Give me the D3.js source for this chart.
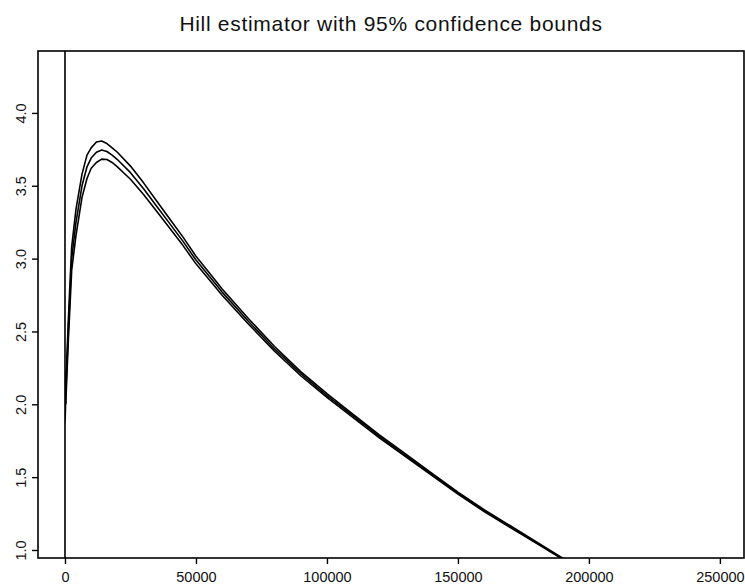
<!DOCTYPE html>
<html>
<head>
<meta charset="utf-8">
<script src="https://cdn.jsdelivr.net/npm/d3@7"></script>
<style>
  html, body { margin: 0; padding: 0; background: #fff; }
  svg { display: block; }
</style>
</head>
<body>
<svg id="chart" width="745" height="586"></svg>
<script>
// ---- data ----
const titleText = "Hill estimator with 95% confidence bounds";
const xTicks = [0, 50000, 100000, 150000, 200000, 250000];
const yTicks = [1.0, 1.5, 2.0, 2.5, 3.0, 3.5, 4.0];
const yTickLabels = ["1.0", "1.5", "2.0", "2.5", "3.0", "3.5", "4.0"];

// erratic first estimates at the smallest k (vertical spike at x = 0)
const spikeK = [0, 0, 0];
const spikeValues = [4.6, 0.9, 1.85];

const kValues = [300, 700, 1260, 1900, 2560, 4200, 6500, 8400, 10000, 12000, 14000, 16000, 18000, 20000,
  25000, 30000, 35000, 40000, 45000, 50000, 55000, 60000, 70000, 80000, 90000, 100000, 110000, 120000,
  130000, 140000, 150000, 160000, 170000, 180000, 190000, 200000];
const hillValues = [2.05, 2.25, 2.5, 2.75, 3.0, 3.25, 3.5, 3.63, 3.69, 3.73, 3.745, 3.735, 3.71, 3.68,
  3.59, 3.48, 3.36, 3.24, 3.12, 2.99, 2.88, 2.77, 2.57, 2.38, 2.21, 2.06, 1.92, 1.78,
  1.65, 1.52, 1.39, 1.27, 1.16, 1.05, 0.94, 0.84];
const upperValues = [2.10, 2.31, 2.57, 2.83, 3.08, 3.34, 3.58, 3.71, 3.76, 3.80, 3.807, 3.79, 3.76, 3.73,
  3.635, 3.52, 3.395, 3.272, 3.149, 3.016, 2.904, 2.792, 2.589, 2.397, 2.224, 2.073, 1.931, 1.79,
  1.659, 1.528, 1.397, 1.276, 1.166, 1.055, 0.944, 0.844];
const lowerValues = [2.00, 2.19, 2.43, 2.67, 2.92, 3.16, 3.42, 3.55, 3.62, 3.66, 3.683, 3.68, 3.66, 3.63,
  3.545, 3.44, 3.325, 3.208, 3.091, 2.964, 2.856, 2.748, 2.551, 2.364, 2.196, 2.047, 1.909, 1.77,
  1.641, 1.512, 1.383, 1.264, 1.154, 1.045, 0.936, 0.836];

// ---- layout ----
const svg = d3.select("#chart");
const plot = { left: 38, top: 51, right: 744, bottom: 558 };
const x = d3.scaleLinear().domain([-10300, 259200]).range([plot.left, plot.right]);
const y = d3.scaleLinear().domain([0.945, 4.425]).range([plot.bottom, plot.top]);

const font = "'Liberation Sans', Arial, Helvetica, sans-serif";

svg.append("defs").append("clipPath").attr("id", "clip")
  .append("rect")
  .attr("x", plot.left).attr("y", plot.top)
  .attr("width", plot.right - plot.left).attr("height", plot.bottom - plot.top);

// title
svg.append("text")
  .attr("x", (plot.left + plot.right) / 2)
  .attr("y", 31)
  .attr("text-anchor", "middle")
  .style("font-family", font)
  .style("font-size", "21px")
  .style("letter-spacing", "0.7px")
  .attr("fill", "#111")
  .text(titleText);

// series
const hillSeries = spikeK.map((k, i) => [k, spikeValues[i]])
  .concat(kValues.map((k, i) => [k, hillValues[i]]));
const upperSeries = kValues.map((k, i) => [k, upperValues[i]]);
const lowerSeries = kValues.map((k, i) => [k, lowerValues[i]]);

const line = d3.line().x(d => x(d[0])).y(d => y(d[1]));
const g = svg.append("g").attr("clip-path", "url(#clip)");
[upperSeries, lowerSeries, hillSeries].forEach(s => {
  g.append("path")
    .datum(s)
    .attr("d", line)
    .attr("fill", "none")
    .attr("stroke", "#000")
    .attr("stroke-width", 1.6)
    .attr("stroke-linejoin", "round");
});

// axes
const xAxis = d3.axisBottom(x).tickValues(xTicks).tickFormat(d3.format("d")).tickSize(6).tickPadding(8);
const xg = svg.append("g").attr("transform", `translate(0,${plot.bottom})`).call(xAxis);
xg.select(".domain").remove();
xg.selectAll("line").attr("stroke", "#000").attr("stroke-width", 1.4);
xg.selectAll("text").style("font-family", font).style("font-size", "14.5px").attr("fill", "#111");

const yAxis = d3.axisLeft(y).tickValues(yTicks).tickFormat((d, i) => yTickLabels[i]).tickSize(6).tickPadding(4);
const yg = svg.append("g").attr("transform", `translate(${plot.left},0)`).call(yAxis);
yg.select(".domain").remove();
yg.selectAll("line").attr("stroke", "#000").attr("stroke-width", 1.4);
yg.selectAll("text")
  .style("font-family", font).style("font-size", "14.5px").attr("fill", "#111")
  .attr("text-anchor", "middle")
  .attr("x", null)
  .attr("transform", "translate(-17,0) rotate(-90)")
  .attr("y", 0)
  .attr("dy", "0.35em");

// frame
svg.append("rect")
  .attr("x", plot.left).attr("y", plot.top)
  .attr("width", plot.right - plot.left).attr("height", plot.bottom - plot.top)
  .attr("fill", "none").attr("stroke", "#000").attr("stroke-width", 1.6);
</script>
</body>
</html>
